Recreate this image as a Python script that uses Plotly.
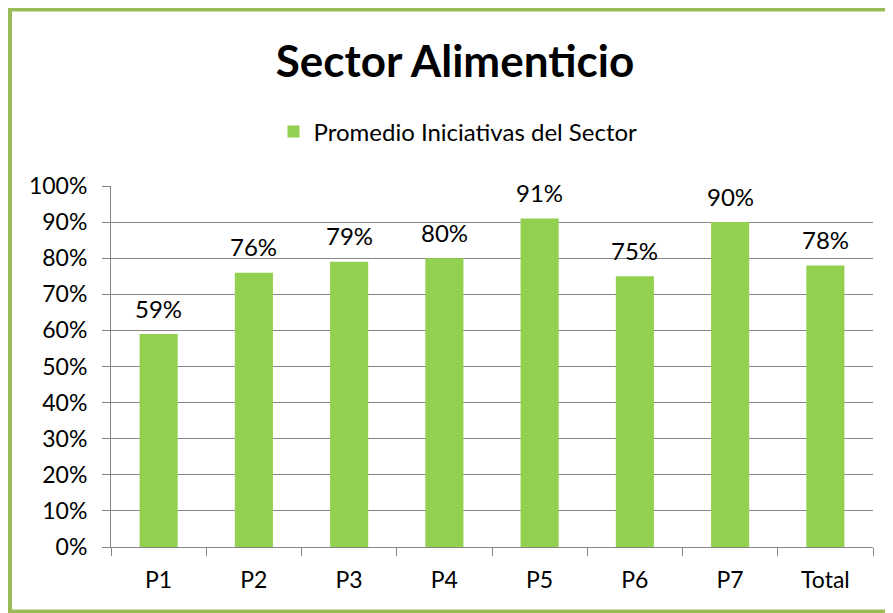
import plotly.graph_objects as go

categories = ["P1", "P2", "P3", "P4", "P5", "P6", "P7", "Total"]
values = [0.59, 0.76, 0.79, 0.80, 0.91, 0.75, 0.90, 0.78]
series_name = "Promedio Iniciativas del Sector"
title_text = "Sector Alimenticio"
y_ticks = [i / 10 for i in range(11)]
y_tick_labels = [f"{i*10}%" for i in range(11)]

OFF = 8  # default page body margin
W, H = 893 - OFF, 613 - OFF
L, R, T, B = 111 - OFF, 20, 186 - OFF, 66
pw, ph = W - L - R, H - T - B

def px_x(x):
    return (x - OFF - L) / pw

def px_y(y):
    return (H - B - (y - OFF)) / ph

font_family = "Lato, 'Open Sans', sans-serif"
grid_col = "#868686"

fig = go.Figure()
fig.add_trace(go.Bar(
    x=categories, y=values, name=series_name,
    marker=dict(color="#92D050", line=dict(width=0)),
    width=0.4, showlegend=True,
))

for c, v in zip(categories, values):
    fig.add_annotation(x=c, y=v, xref="x", yref="y", text=f"{round(v*100)}%",
                       showarrow=False, yshift=26, yanchor="middle", xanchor="center",
                       font=dict(size=24, color="black", family=font_family))

fig.update_layout(
    width=W, height=H,
    margin=dict(l=L, r=R, t=T, b=B, autoexpand=False),
    paper_bgcolor="white", plot_bgcolor="white",
    font=dict(family=font_family, color="black"),
    title=dict(text=f"<b>{title_text}</b>", x=px_x(455), xref="paper", xanchor="center",
               y=1 - (62 - OFF) / H, yref="container", yanchor="middle",
               font=dict(size=44, color="black", family=font_family)),
    showlegend=True,
    legend=dict(orientation="h", x=px_x(458), xanchor="center", y=px_y(132), yanchor="middle",
                font=dict(size=24, color="black", family=font_family),
                itemwidth=30, bgcolor="rgba(0,0,0,0)"),
)

fig.update_yaxes(
    range=[0, 1], tickvals=y_ticks, ticktext=y_tick_labels,
    showgrid=True, gridcolor=grid_col, gridwidth=1,
    showline=True, linecolor=grid_col, linewidth=1,
    ticks="outside", ticklen=8, tickcolor=grid_col, tickwidth=1,
    ticklabelstandoff=10,
    tickfont=dict(size=23, color="black", family=font_family),
    zeroline=False, fixedrange=True,
)
fig.update_xaxes(
    showline=True, linecolor=grid_col, linewidth=1,
    ticks="outside", ticklen=8, tickcolor=grid_col, tickwidth=1,
    tickson="boundaries", showgrid=False, ticklabelstandoff=12,
    tickfont=dict(size=23, color="black", family=font_family),
    fixedrange=True,
)

fig.add_shape(type="rect", xref="paper", yref="paper",
              x0=px_x(10), x1=px_x(910), y0=px_y(611.5), y1=px_y(9.5),
              line=dict(color="#9BBB59", width=4), fillcolor="rgba(0,0,0,0)", layer="below")

fig.write_html("out.html")
